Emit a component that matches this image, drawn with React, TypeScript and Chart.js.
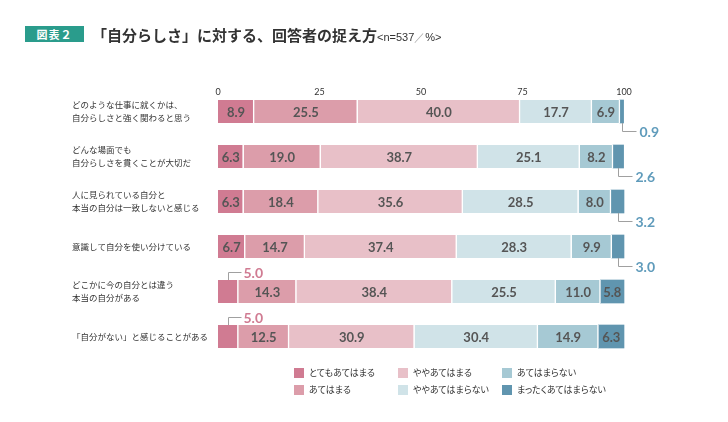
import React, { useEffect, useRef } from "react";
import { Chart, registerables } from "chart.js";

Chart.register(...registerables);

const categories: (string | string[])[] = [
  ["どのような仕事に就くかは、", "自分らしさと強く関わると思う"],
  ["どんな場面でも", "自分らしさを貫くことが大切だ"],
  ["人に見られている自分と", "本当の自分は一致しないと感じる"],
  "意識して自分を使い分けている",
  ["どこかに今の自分とは違う", "本当の自分がある"],
  "「自分がない」と感じることがある",
];

const seriesNames = [
  "とてもあてはまる",
  "あてはまる",
  "ややあてはまる",
  "ややあてはまらない",
  "あてはまらない",
  "まったくあてはまらない",
];

const veryTrue = [8.9, 6.3, 6.3, 6.7, 5.0, 5.0];
const fairlyTrue = [25.5, 19.0, 18.4, 14.7, 14.3, 12.5];
const somewhatTrue = [40.0, 38.7, 35.6, 37.4, 38.4, 30.9];
const somewhatNot = [17.7, 25.1, 28.5, 28.3, 25.5, 30.4];
const notTrue = [6.9, 8.2, 8.0, 9.9, 11.0, 14.9];
const notAtAll = [0.9, 2.6, 3.2, 3.0, 5.8, 6.3];

const seriesValues = [veryTrue, fairlyTrue, somewhatTrue, somewhatNot, notTrue, notAtAll];

const xTicks = [0, 25, 50, 75, 100];

const colors = ["#d07b92", "#dc9daa", "#e8c0c8", "#d0e3e8", "#a6c9d4", "#6095af"];

const JP = '"Noto Sans CJK JP", "Noto Sans", sans-serif';

const valueLabelPlugin = {
  id: "valueLabels",
  afterDatasetsDraw(chart: any) {
    const ctx = chart.ctx;
    const n = chart.data.datasets.length;
    ctx.save();
    chart.data.datasets.forEach((ds: any, di: number) => {
      const meta = chart.getDatasetMeta(di);
      meta.data.forEach((el: any, j: number) => {
        const v = ds.data[j] as number;
        const left = Math.min(el.x, el.base);
        const right = Math.max(el.x, el.base);
        const cx = (left + right) / 2;
        const cy = el.y;
        const h = el.height;
        const txt = v.toFixed(1);
        if (v > 5) {
          ctx.font = 'bold 13px Lato, "Open Sans", sans-serif';
          ctx.fillStyle = "#555555";
          ctx.textAlign = "center";
          ctx.textBaseline = "middle";
          ctx.fillText(txt, cx, cy + 1);
        } else {
          ctx.strokeStyle = "#a0a0a0";
          ctx.lineWidth = 1;
          ctx.font = 'bold 14px Lato, "Open Sans", sans-serif';
          ctx.textAlign = "left";
          ctx.textBaseline = "middle";
          if (di === 0) {
            const top = cy - h / 2;
            const ly = top - 8;
            const lx = Math.round(cx) + 0.5;
            ctx.beginPath();
            ctx.moveTo(lx, top);
            ctx.lineTo(lx, Math.round(ly) + 0.5);
            ctx.lineTo(lx + 13, Math.round(ly) + 0.5);
            ctx.stroke();
            ctx.fillStyle = colors[0];
            ctx.fillText(txt, lx + 15, ly + 1);
          } else if (di === n - 1) {
            const bottom = cy + h / 2;
            const ly = bottom + 8;
            const lx = Math.round(cx) + 0.5;
            ctx.beginPath();
            ctx.moveTo(lx, bottom);
            ctx.lineTo(lx, Math.round(ly) + 0.5);
            ctx.lineTo(lx + 14, Math.round(ly) + 0.5);
            ctx.stroke();
            ctx.fillStyle = "#5f9bbb";
            ctx.fillText(txt, lx + 17, ly + 1);
          }
        }
      });
    });
    ctx.restore();
  },
};

export default function App() {
  const canvasRef = useRef<HTMLCanvasElement | null>(null);

  useEffect(() => {
    document.body.style.margin = "0";
    const canvas = canvasRef.current;
    if (!canvas) return;
    const chart = new Chart(canvas, {
      type: "bar",
      data: {
        labels: categories as any,
        datasets: seriesValues.map((vals, i) => ({
          label: seriesNames[i],
          data: vals,
          backgroundColor: colors[i],
          borderColor: "#ffffff",
          borderWidth: i === seriesValues.length - 1 ? 0 : { top: 0, bottom: 0, left: 0, right: 1.5 },
          borderSkipped: false,
          barThickness: 23,
          clip: false as any,
        })),
      },
      options: {
        indexAxis: "y",
        responsive: false,
        animation: false,
        events: [],
        layout: { padding: { left: 72, right: 104, top: 86.5, bottom: 85.5 } },
        plugins: {
          legend: { display: false },
          tooltip: { enabled: false },
          title: { display: false },
        },
        scales: {
          x: {
            position: "top",
            stacked: true,
            min: 0,
            max: 100,
            afterBuildTicks: (scale: any) => {
              scale.ticks = xTicks.map((v) => ({ value: v }));
            },
            afterFit: (scale: any) => {
              scale.height = 25;
            },
            ticks: {
              padding: 14,
              color: "#333333",
              font: { family: 'Lato, "Open Sans", sans-serif', size: 9 },
            },
            grid: { display: false, drawTicks: false },
            border: { display: false },
          },
          y: {
            stacked: true,
            offset: false,
            afterFit: (scale: any) => {
              scale.width = 146;
            },
            ticks: {
              crossAlign: "far",
              padding: 0,
              color: "#333333",
              font: { family: JP, size: 8.5, lineHeight: 1.5 },
            },
            grid: { display: false, drawTicks: false },
            border: { display: false },
          },
        },
      },
      plugins: [valueLabelPlugin],
    });
    return () => chart.destroy();
  }, []);

  const legendPos = (i: number) => {
    const col = Math.floor(i / 2);
    const row = i % 2;
    return { left: 294 + col * 104, top: 368 + row * 17 };
  };

  return (
    <div style={{ position: "fixed", left: 0, top: 0, width: 728, height: 422, background: "#ffffff", fontFamily: JP, overflow: "hidden" }}>
      <canvas ref={canvasRef} width={728} height={422} style={{ position: "absolute", left: 0, top: 0, width: 728, height: 422 }} />
      <div
        style={{
          position: "absolute",
          left: 25,
          top: 26,
          width: 59,
          height: 16,
          background: "#2a9c8c",
          color: "#ffffff",
          fontSize: 11,
          fontWeight: 700,
          lineHeight: "16px",
          textAlign: "center",
          letterSpacing: 1,
        }}
      >
        図表２
      </div>
      <div
        style={{
          position: "absolute",
          left: 92,
          top: 26,
          whiteSpace: "nowrap",
          color: "#333333",
          fontSize: 15,
          fontWeight: 700,
          lineHeight: "17px",
        }}
      >
        「自分らしさ」に対する、回答者の捉え方
        <span style={{ fontSize: 11, fontWeight: 400, fontFamily: '"Liberation Sans", Arial, sans-serif' }}>
          {"<n=537"}
          <span style={{ color: "#aaaaaa" }}>／</span>
          {"%>"}
        </span>
      </div>
      {seriesNames.map((name, si) => {
        const p = legendPos(si);
        return (
          <div key={si} style={{ position: "absolute", left: p.left, top: p.top, height: 10, display: "flex", alignItems: "center", whiteSpace: "nowrap" }}>
            <div style={{ width: 10, height: 10, background: colors[si], marginRight: 5 }} />
            <span style={{ fontSize: 9, color: "#333333", lineHeight: "10px", fontFeatureSettings: '"palt" 1' }}>{name}</span>
          </div>
        );
      })}
    </div>
  );
}
